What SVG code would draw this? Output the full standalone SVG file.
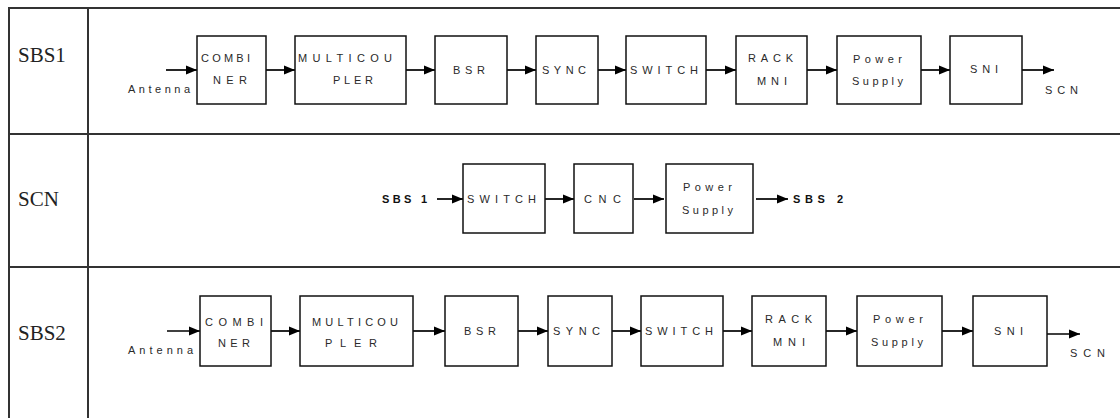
<svg xmlns="http://www.w3.org/2000/svg" width="1120" height="418" viewBox="0 0 1120 418">
  <defs>
    <marker id="arrow" markerUnits="userSpaceOnUse" markerWidth="12" markerHeight="10" refX="11" refY="5" orient="auto">
      <path d="M0,0.5 L11,5 L0,9.5 z" fill="#000"/>
    </marker>
    <style>
      .grid { stroke: #333; stroke-width: 2; fill: none; }
      .box { fill: #fff; stroke: #111; stroke-width: 1.5; }
      .wire { stroke: #000; stroke-width: 1.7; fill: none; marker-end: url(#arrow); }
      .lbl { font-family: "Liberation Sans", Arial, sans-serif; font-size: 11px; fill: #2a2a2a; }
      .port { font-family: "Liberation Sans", Arial, sans-serif; font-size: 11px; font-weight: bold; fill: #111; }
      .row { font-family: "Liberation Serif", "Times New Roman", serif; font-size: 21px; fill: #222; }
    </style>
  </defs>
  <rect width="1120" height="418" fill="#fff"/>

  <!-- table grid -->
  <g id="table">
    <line class="grid" x1="9" y1="8" x2="1120" y2="8"/>
    <line class="grid" x1="9" y1="134" x2="1120" y2="134"/>
    <line class="grid" x1="9" y1="267" x2="1120" y2="267"/>
    <line class="grid" x1="9" y1="7" x2="9" y2="418"/>
    <line class="grid" x1="88" y1="7" x2="88" y2="418"/>
    <text class="row" x="18" y="62">SBS1</text>
    <text class="row" x="18" y="206">SCN</text>
    <text class="row" x="18" y="340">SBS2</text>
  </g>

  <!-- connectors -->
  <g id="connectors">
    <!-- SBS1 chain -->
    <line class="wire" x1="166" y1="70" x2="197" y2="70"/>
    <line class="wire" x1="266" y1="70" x2="295" y2="70"/>
    <line class="wire" x1="406" y1="70" x2="435" y2="70"/>
    <line class="wire" x1="507" y1="70" x2="536" y2="70"/>
    <line class="wire" x1="597" y1="70" x2="626" y2="70"/>
    <line class="wire" x1="706" y1="70" x2="736" y2="70"/>
    <line class="wire" x1="807" y1="70" x2="837" y2="70"/>
    <line class="wire" x1="921" y1="70" x2="950" y2="70"/>
    <line class="wire" x1="1022" y1="70" x2="1054" y2="70"/>
    <!-- SCN chain -->
    <line class="wire" x1="437" y1="199" x2="463" y2="199"/>
    <line class="wire" x1="545" y1="199" x2="574" y2="199"/>
    <line class="wire" x1="634" y1="199" x2="664" y2="199"/>
    <line class="wire" x1="756" y1="199" x2="788" y2="199"/>
    <!-- SBS2 chain -->
    <line class="wire" x1="167" y1="331" x2="200" y2="331"/>
    <line class="wire" x1="271" y1="331" x2="300" y2="331"/>
    <line class="wire" x1="413" y1="331" x2="445" y2="331"/>
    <line class="wire" x1="518" y1="331" x2="548" y2="331"/>
    <line class="wire" x1="612" y1="331" x2="641" y2="331"/>
    <line class="wire" x1="723" y1="331" x2="752" y2="331"/>
    <line class="wire" x1="826" y1="331" x2="857" y2="331"/>
    <line class="wire" x1="942" y1="331" x2="973" y2="331"/>
    <line class="wire" x1="1045" y1="334" x2="1080" y2="334"/>
  </g>

  <!-- SBS1 row -->
  <g id="sbs1-antenna"><text class="lbl" x="128" y="93" textLength="62" lengthAdjust="spacing">Antenna</text></g>
  <g id="sbs1-combiner">
    <rect class="box" x="197" y="36" width="69" height="68"/>
    <text class="lbl" x="201" y="62" textLength="49" lengthAdjust="spacing">COMBI</text>
    <text class="lbl" x="213" y="84" textLength="34" lengthAdjust="spacing">NER</text>
  </g>
  <g id="sbs1-multicoupler">
    <rect class="box" x="295" y="36" width="111" height="68"/>
    <text class="lbl" x="298" y="62" textLength="94" lengthAdjust="spacing">MULTICOU</text>
    <text class="lbl" x="333" y="84" textLength="40" lengthAdjust="spacing">PLER</text>
  </g>
  <g id="sbs1-bsr">
    <rect class="box" x="435" y="36" width="72" height="68"/>
    <text class="lbl" x="453" y="74" textLength="32" lengthAdjust="spacing">BSR</text>
  </g>
  <g id="sbs1-sync">
    <rect class="box" x="536" y="36" width="62" height="68"/>
    <text class="lbl" x="542" y="74" textLength="44" lengthAdjust="spacing">SYNC</text>
  </g>
  <g id="sbs1-switch">
    <rect class="box" x="626" y="36" width="80" height="68"/>
    <text class="lbl" x="630" y="74" textLength="68" lengthAdjust="spacing">SWITCH</text>
  </g>
  <g id="sbs1-rack-mni">
    <rect class="box" x="736" y="36" width="71" height="68"/>
    <text class="lbl" x="748" y="62" textLength="45" lengthAdjust="spacing">RACK</text>
    <text class="lbl" x="757" y="85" textLength="30" lengthAdjust="spacing">MNI</text>
  </g>
  <g id="sbs1-power-supply">
    <rect class="box" x="837" y="36" width="84" height="68"/>
    <text class="lbl" x="853" y="63" textLength="49" lengthAdjust="spacing">Power</text>
    <text class="lbl" x="852" y="85" textLength="51" lengthAdjust="spacing">Supply</text>
  </g>
  <g id="sbs1-sni">
    <rect class="box" x="950" y="36" width="72" height="68"/>
    <text class="lbl" x="970" y="73" textLength="28" lengthAdjust="spacing">SNI</text>
  </g>
  <g id="sbs1-scn-out"><text class="lbl" x="1045" y="94" textLength="33" lengthAdjust="spacing">SCN</text></g>

  <!-- SCN row -->
  <g id="scn-in"><text class="port" x="382" y="203" textLength="45" lengthAdjust="spacing">SBS 1</text></g>
  <g id="scn-switch">
    <rect class="box" x="463" y="164" width="82" height="69"/>
    <text class="lbl" x="467" y="203" textLength="69" lengthAdjust="spacing">SWITCH</text>
  </g>
  <g id="scn-cnc">
    <rect class="box" x="574" y="164" width="59" height="69"/>
    <text class="lbl" x="584" y="203" textLength="37" lengthAdjust="spacing">CNC</text>
  </g>
  <g id="scn-power-supply">
    <rect class="box" x="666" y="164" width="87" height="69"/>
    <text class="lbl" x="683" y="191" textLength="49" lengthAdjust="spacing">Power</text>
    <text class="lbl" x="682" y="214" textLength="51" lengthAdjust="spacing">Supply</text>
  </g>
  <g id="scn-out"><text class="port" x="793" y="203" textLength="50" lengthAdjust="spacing">SBS 2</text></g>

  <!-- SBS2 row -->
  <g id="sbs2-antenna"><text class="lbl" x="128" y="354" textLength="65" lengthAdjust="spacing">Antenna</text></g>
  <g id="sbs2-combiner">
    <rect class="box" x="200" y="296" width="71" height="70"/>
    <text class="lbl" x="205" y="326" textLength="58" lengthAdjust="spacing">COMBI</text>
    <text class="lbl" x="218" y="347" textLength="32" lengthAdjust="spacing">NER</text>
  </g>
  <g id="sbs2-multicoupler">
    <rect class="box" x="300" y="296" width="113" height="70"/>
    <text class="lbl" x="312" y="326" textLength="86" lengthAdjust="spacing">MULTICOU</text>
    <text class="lbl" x="325" y="347" textLength="52" lengthAdjust="spacing">PLER</text>
  </g>
  <g id="sbs2-bsr">
    <rect class="box" x="445" y="296" width="73" height="70"/>
    <text class="lbl" x="464" y="335" textLength="32" lengthAdjust="spacing">BSR</text>
  </g>
  <g id="sbs2-sync">
    <rect class="box" x="548" y="296" width="64" height="70"/>
    <text class="lbl" x="553" y="335" textLength="47" lengthAdjust="spacing">SYNC</text>
  </g>
  <g id="sbs2-switch">
    <rect class="box" x="641" y="296" width="82" height="70"/>
    <text class="lbl" x="645" y="335" textLength="68" lengthAdjust="spacing">SWITCH</text>
  </g>
  <g id="sbs2-rack-mni">
    <rect class="box" x="752" y="296" width="74" height="70"/>
    <text class="lbl" x="765" y="323" textLength="47" lengthAdjust="spacing">RACK</text>
    <text class="lbl" x="773" y="346" textLength="32" lengthAdjust="spacing">MNI</text>
  </g>
  <g id="sbs2-power-supply">
    <rect class="box" x="857" y="296" width="85" height="70"/>
    <text class="lbl" x="873" y="323" textLength="50" lengthAdjust="spacing">Power</text>
    <text class="lbl" x="871" y="346" textLength="52" lengthAdjust="spacing">Supply</text>
  </g>
  <g id="sbs2-sni">
    <rect class="box" x="973" y="296" width="74" height="70"/>
    <text class="lbl" x="994" y="335" textLength="29" lengthAdjust="spacing">SNI</text>
  </g>
  <g id="sbs2-scn-out"><text class="lbl" x="1070" y="357" textLength="35" lengthAdjust="spacing">SCN</text></g>
</svg>
